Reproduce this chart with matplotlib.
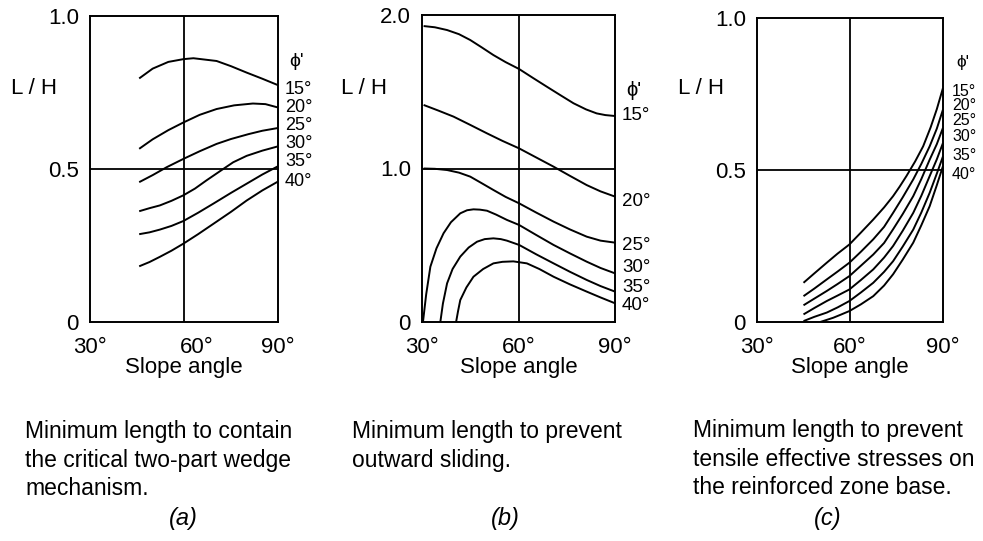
import matplotlib
matplotlib.use('Agg')
import matplotlib.pyplot as plt
import matplotlib.transforms as mtransforms

plt.rcParams['font.family'] = ['Liberation Sans', 'DejaVu Sans']
plt.rcParams['font.size'] = 16

W, H = 983, 541

phi_labels = ['15°', '20°', '25°', '30°', '35°', '40°']
x_ticks = [30, 60, 90]
x_ticklabels = ['30°', '60°', '90°']

# (a) two-part wedge, one list per phi' (15..40)
a_angle = [
    [45.7, 50, 55, 59.8, 63, 70.4, 75, 80, 85, 90],
    [45.7, 50, 55, 59.8, 65, 70.4, 76, 82, 86, 90],
    [45.7, 50, 54.5, 59.8, 65, 70.4, 75, 80.6, 85, 90],
    [45.7, 49, 52.3, 56, 59.8, 63.5, 67.2, 71.5, 75.7, 80, 85, 90],
    [45.7, 49, 52.3, 56, 59.8, 64.5, 69.4, 75, 80, 85, 90],
    [45.7, 49, 52.3, 56, 59.8, 64.5, 69.4, 75, 80, 85, 90],
]
a_lh = [
    [0.796, 0.828, 0.850, 0.859, 0.862, 0.853, 0.836, 0.815, 0.795, 0.774],
    [0.566, 0.597, 0.627, 0.652, 0.677, 0.696, 0.708, 0.714, 0.712, 0.701],
    [0.457, 0.480, 0.506, 0.533, 0.558, 0.582, 0.598, 0.614, 0.625, 0.634],
    [0.362, 0.372, 0.381, 0.396, 0.414, 0.436, 0.463, 0.493, 0.522, 0.543, 0.560, 0.574],
    [0.287, 0.293, 0.302, 0.314, 0.330, 0.357, 0.387, 0.422, 0.452, 0.482, 0.509],
    [0.182, 0.196, 0.213, 0.233, 0.256, 0.287, 0.321, 0.360, 0.397, 0.430, 0.459],
]

# (b) outward sliding
b_angle = [
    [30.5, 34, 37.8, 41.5, 45, 48.5, 52.2, 56, 60.2, 64.5, 68.8, 73, 77.1, 81, 84.3, 87, 90],
    [30.5, 35, 39.8, 45, 50.2, 55, 60.2, 65.5, 70.9, 76, 81.2, 85.5, 90],
    [30.5, 34, 37.8, 41.5, 45, 48.5, 52.2, 56, 60.2, 65.5, 70.9, 76, 81.2, 85.5, 90],
    [30.3, 31.3, 32.6, 34.5, 36.7, 39, 41.9, 44, 46, 48, 50.2, 53, 56.4, 60.2, 65.5, 70.9, 76, 81.2, 85.5, 90],
    [35.7, 36.5, 37.8, 39.5, 41.9, 44.5, 47.1, 49.5, 52.2, 54.5, 56.4, 60.2, 65.5, 70.9, 76, 81.2, 85.5, 90],
    [40.6, 41.2, 41.9, 43.8, 46, 49, 52.2, 55, 58.4, 62.6, 66.5, 70.9, 76, 81.2, 85.5, 90],
]
b_lh = [
    [1.928, 1.920, 1.902, 1.875, 1.837, 1.790, 1.739, 1.693, 1.648, 1.590, 1.533, 1.478, 1.425, 1.385, 1.359, 1.348, 1.342],
    [1.414, 1.378, 1.338, 1.284, 1.229, 1.180, 1.131, 1.072, 1.012, 0.952, 0.892, 0.851, 0.817],
    [1.000, 0.998, 0.990, 0.973, 0.947, 0.905, 0.860, 0.815, 0.773, 0.713, 0.654, 0.603, 0.556, 0.530, 0.517],
    [0.0, 0.18, 0.36, 0.48, 0.578, 0.65, 0.708, 0.728, 0.734, 0.732, 0.725, 0.70, 0.665, 0.632, 0.567, 0.502, 0.447, 0.393, 0.352, 0.317],
    [0.0, 0.12, 0.252, 0.345, 0.426, 0.485, 0.523, 0.540, 0.545, 0.540, 0.530, 0.502, 0.441, 0.382, 0.327, 0.274, 0.234, 0.198],
    [0.0, 0.07, 0.143, 0.225, 0.295, 0.345, 0.382, 0.392, 0.395, 0.382, 0.345, 0.295, 0.245, 0.198, 0.160, 0.122],
]

# (c) tensile stresses on base
c_angle = [
    [45, 48.5, 52.5, 56, 59.8, 63.5, 67.5, 71, 73.9, 76, 78.2, 81, 83.6, 86, 88, 90],
    [45, 48.5, 52.5, 56, 59.8, 63.5, 67.5, 71, 73.9, 77, 80.4, 83, 85.7, 88, 90],
    [45, 48.5, 52.5, 56, 59.8, 63.5, 67.5, 71, 73.9, 77, 80.4, 83, 85.7, 88, 90],
    [45, 48.5, 52.5, 56, 59.8, 63.5, 67.5, 71, 73.9, 77, 80.4, 83, 85.7, 88, 90],
    [45, 48.5, 52.5, 56, 59.8, 63.5, 67.5, 71, 73.9, 77, 80.4, 83, 85.7, 88, 90],
    [50.4, 52.5, 54.6, 57, 59.8, 63.5, 67.5, 71, 73.9, 77, 80.4, 83, 85.7, 88, 90],
]
c_lh = [
    [0.129, 0.160, 0.195, 0.225, 0.255, 0.294, 0.337, 0.377, 0.414, 0.445, 0.480, 0.528, 0.578, 0.640, 0.700, 0.770],
    [0.085, 0.110, 0.140, 0.166, 0.195, 0.231, 0.272, 0.313, 0.359, 0.410, 0.469, 0.520, 0.578, 0.636, 0.699],
    [0.055, 0.077, 0.102, 0.125, 0.151, 0.185, 0.222, 0.260, 0.305, 0.355, 0.414, 0.470, 0.534, 0.585, 0.639],
    [0.025, 0.046, 0.069, 0.087, 0.107, 0.138, 0.173, 0.212, 0.250, 0.300, 0.359, 0.415, 0.480, 0.535, 0.589],
    [0.003, 0.017, 0.031, 0.048, 0.069, 0.097, 0.129, 0.165, 0.200, 0.248, 0.304, 0.360, 0.425, 0.488, 0.545],
    [0.0, 0.007, 0.014, 0.024, 0.036, 0.058, 0.085, 0.120, 0.157, 0.205, 0.261, 0.318, 0.381, 0.450, 0.513],
]

captions = [
    'Minimum length to contain\nthe critical two-part wedge\nmechanism.',
    'Minimum length to prevent\noutward sliding.',
    'Minimum length to prevent\ntensile effective stresses on\nthe reinforced zone base.',
]


def fx(px):
    return px / W


def fy(py):
    return 1 - py / H


fig = plt.figure(figsize=(W / 100, H / 100), dpi=100)

# panel boxes in pixels: left, right, top, bottom
boxes = [(90, 278, 16, 322), (422, 615, 15, 322), (757, 943, 18, 322)]
ymax = [1.0, 2.0, 1.0]
yticks = [[0, 0.5, 1.0], [0, 1.0, 2.0], [0, 0.5, 1.0]]
yticklabels = [['0', '0.5', '1.0'], ['0', '1.0', '2.0'], ['0', '0.5', '1.0']]
angles = [a_angle, b_angle, c_angle]
values = [a_lh, b_lh, c_lh]

# phi' label positions (pixels): x start, phi y, label ys
phi_x = [285, 622, 952]
phi_head_y = [62, 90, 62]
phi_ys = [[89, 107, 125, 143, 162, 181],
          [116, 201, 245, 267, 287, 305],
          [91, 106, 121, 136, 155, 174]]
phi_size = [13, 13.5, 11.5]
lh_x = [34, 364, 701]
cap_x = [25, 352, 693]
cap_y = [460, 446, 459]
tag_x = [183, 505, 828]
tags = ['(a)', '(b)', '(c)']

for i in range(3):
    l, r, t, b = boxes[i]
    ax = fig.add_axes([fx(l), fy(b), (r - l) / W, (b - t) / H])
    for xs, ys in zip(angles[i], values[i]):
        ax.plot(xs, ys, color='black', lw=1.4, solid_capstyle='butt')
    ax.axvline(60, color='black', lw=1.3)
    ax.axhline(ymax[i] / 2, color='black', lw=1.3)
    ax.set_xlim(30, 90)
    ax.set_ylim(0, ymax[i])
    ax.set_xticks(x_ticks, x_ticklabels)
    ax.set_yticks(yticks[i], yticklabels[i])
    ax.tick_params(length=0, labelsize=16)
    ax.tick_params(axis='x', pad=11)
    ax.tick_params(axis='y', pad=8)
    for s in ax.spines.values():
        s.set_linewidth(1.4)
    if i == 0:
        # the 60 deg label sits a little right of its line in (a)
        lab = ax.get_xticklabels()[1]
        lab.set_transform(lab.get_transform() + mtransforms.ScaledTranslation(0.13, 0, fig.dpi_scale_trans))

    fig.text(fx((l + r) / 2), fy(368), 'Slope angle', ha='center', va='center', fontsize=16)
    fig.text(fx(lh_x[i]), fy(89), 'L / H', ha='center', va='center', fontsize=16)
    fig.text(fx(phi_x[i] + 4), fy(phi_head_y[i]), "ϕ'", ha='left', va='center', fontsize=phi_size[i] + 1)
    for lab_txt, py in zip(phi_labels, phi_ys[i]):
        fig.text(fx(phi_x[i]), fy(py), lab_txt, ha='left', va='center', fontsize=phi_size[i])

    fig.text(fx(cap_x[i]), fy(cap_y[i]), captions[i], ha='left', va='center',
             fontsize=16.5, linespacing=1.3)
    fig.text(fx(tag_x[i]), fy(519), tags[i], ha='center', va='center',
             fontsize=17, style='italic')

plt.savefig('out.png', dpi=100)
plt.close()
